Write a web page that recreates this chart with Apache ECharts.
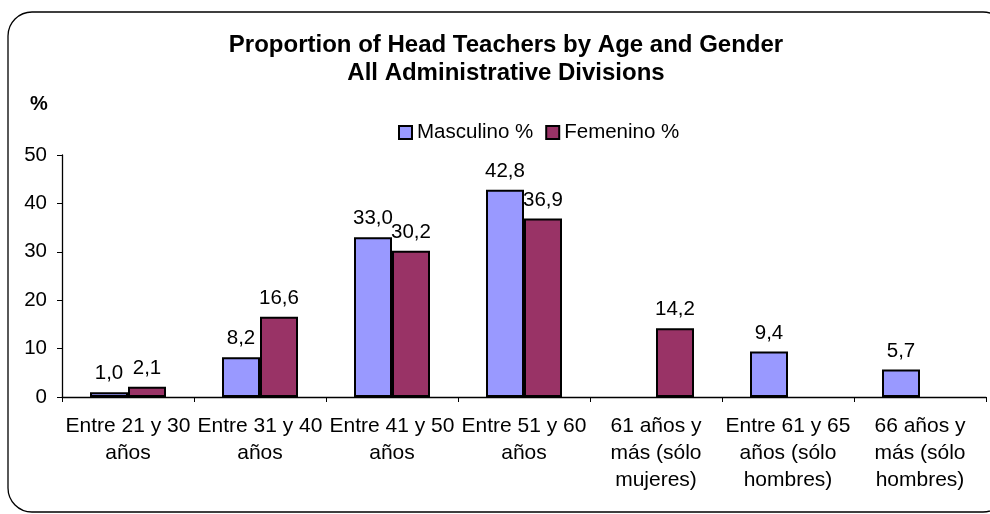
<!DOCTYPE html>
<html lang="es">
<head>
    <meta charset="UTF-8">
    <title>Proportion of Head Teachers by Age and Gender</title>
    <script src="https://cdn.jsdelivr.net/npm/echarts@6/dist/echarts.min.js"></script>
    <style>
        html, body { margin: 0; padding: 0; background: #fff; }
        #main { width: 990px; height: 514px; }
    </style>
</head>
<body>
    <div id="main"></div>
    <script>
        // categorías (grupos de edad)
        const categories = [
            'Entre 21 y 30\naños',
            'Entre 31 y 40\naños',
            'Entre 41 y 50\naños',
            'Entre 51 y 60\naños',
            '61 años y\nmás (sólo\nmujeres)',
            'Entre 61 y 65\naños (sólo\nhombres)',
            '66 años y\nmás (sólo\nhombres)'
        ];
        const masculino = [1.0, 8.2, 33.0, 42.8, null, 9.4, 5.7];
        const femenino = [2.1, 16.6, 30.2, 36.9, 14.2, null, null];
        const yTicks = { min: 0, max: 50, interval: 10 };

        const font = 'Arial, "Liberation Sans", sans-serif';
        const chart = echarts.init(document.getElementById('main'));

        // etiqueta con coma decimal
        function fmt(p) {
            return p.value == null ? '' : p.value.toFixed(1).replace('.', ',');
        }

        const option = {
            backgroundColor: '#fff',
            animation: false,
            title: [
                {
                    text: 'Proportion of Head Teachers by Age and Gender\nAll Administrative Divisions',
                    left: 506,
                    top: 31,
                    padding: 0,
                    textAlign: 'center',
                    textStyle: { fontFamily: font, fontSize: 24, fontWeight: 'bold', color: '#000', lineHeight: 28 }
                },
                {
                    text: '%',
                    left: 30,
                    top: 94,
                    padding: 0,
                    textStyle: { fontFamily: font, fontSize: 20, fontWeight: 'bold', color: '#000' }
                }
            ],
            legend: {
                left: 398,
                top: 122,
                padding: 0,
                itemWidth: 13,
                itemHeight: 13,
                itemGap: 12,
                icon: 'rect',
                itemStyle: { borderColor: '#000', borderWidth: 2 },
                textStyle: { fontFamily: font, fontSize: 20.5, color: '#000' },
                data: ['Masculino %', 'Femenino %']
            },
            grid: { left: 62, right: 4, top: 155, bottom: 117 },
            xAxis: {
                type: 'category',
                data: categories,
                axisLine: { lineStyle: { color: '#000', width: 1.3 } },
                axisTick: { show: true, length: 5, lineStyle: { color: '#000' } },
                axisLabel: {
                    interval: 0, margin: 16, color: '#000',
                    fontFamily: font, fontSize: 21, lineHeight: 27
                }
            },
            yAxis: {
                type: 'value',
                min: yTicks.min,
                max: yTicks.max,
                interval: yTicks.interval,
                axisLine: { show: true, lineStyle: { color: '#000', width: 1.3 } },
                axisTick: { show: true, length: 5, lineStyle: { color: '#000' } },
                splitLine: { show: false },
                axisLabel: { margin: 15, color: '#000', fontFamily: font, fontSize: 20.5 }
            },
            series: [
                {
                    name: 'Masculino %',
                    type: 'bar',
                    data: masculino,
                    barWidth: 38,
                    barGap: '0%',
                    itemStyle: { color: '#9999FF', borderColor: '#000', borderWidth: 2 },
                    label: {
                        show: true, position: 'top', distance: 8, formatter: fmt,
                        color: '#000', fontFamily: font, fontSize: 20.5
                    }
                },
                {
                    name: 'Femenino %',
                    type: 'bar',
                    data: femenino,
                    barWidth: 38,
                    barGap: '0%',
                    itemStyle: { color: '#993366', borderColor: '#000', borderWidth: 2 },
                    label: {
                        show: true, position: 'top', distance: 8, formatter: fmt,
                        color: '#000', fontFamily: font, fontSize: 20.5
                    }
                }
            ],
            graphic: [
                {
                    type: 'rect',
                    shape: { x: 8, y: 12, width: 999, height: 500, r: 24 },
                    style: { fill: 'none', stroke: '#000', lineWidth: 1.3 },
                    silent: true,
                    z: -1
                }
            ]
        };

        chart.setOption(option);
    </script>
</body>
</html>
